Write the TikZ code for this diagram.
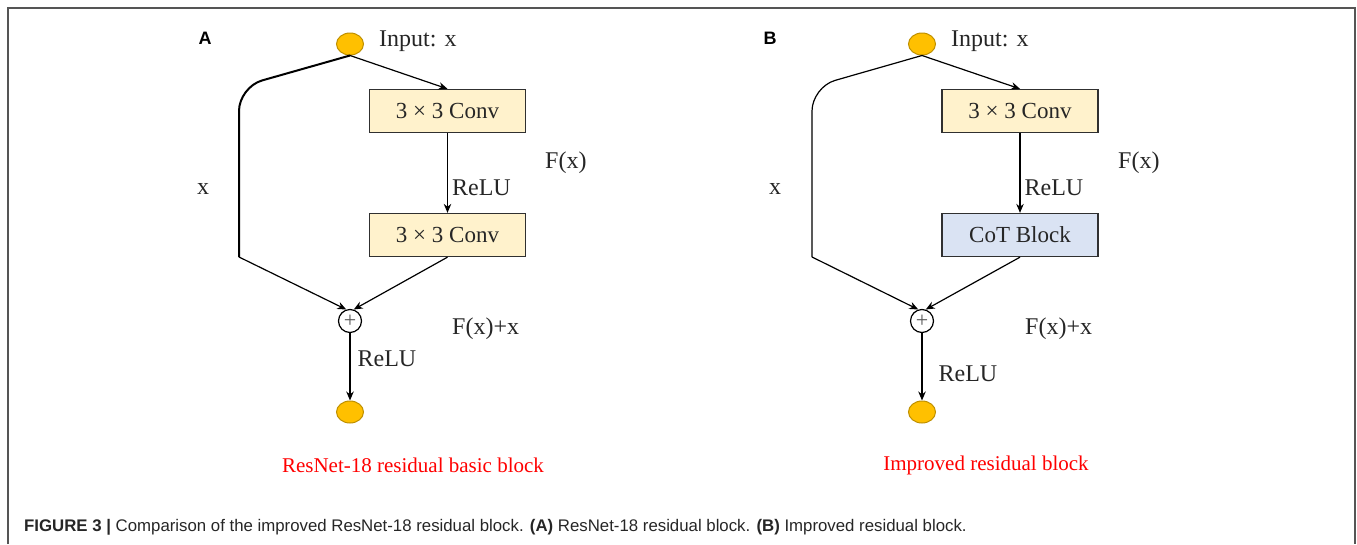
\documentclass[tikz,border=0pt]{standalone}
\usepackage{fontspec}
\setmainfont{Liberation Serif}
\newfontfamily\capfont{Liberation Sans}
\usetikzlibrary{arrows.meta,shapes.geometric}
\definecolor{dotfill}{HTML}{FFC000}
\definecolor{dotedge}{HTML}{BF9000}
\definecolor{convfill}{HTML}{FFF2CC}
\definecolor{cotfill}{HTML}{DAE3F3}
\definecolor{boxedge}{HTML}{303030}
\definecolor{txt}{HTML}{262626}
\definecolor{plusc}{HTML}{595959}
\definecolor{framec}{HTML}{555555}
\newcommand{\convtxt}{3 × 3 Conv}
\begin{document}
\begin{tikzpicture}[x=1pt,y=-1pt,
  dot/.style={ellipse, draw=dotedge, fill=dotfill, line width=1pt,
    minimum width=27pt, minimum height=22pt, inner sep=0pt},
  layer/.style={draw=boxedge, line width=1.3pt, minimum width=156pt,
    minimum height=43pt, inner sep=0pt, text=txt,
    font=\fontsize{23}{26}\selectfont},
  sum/.style={circle, draw=black, line width=1.2pt, minimum size=23pt,
    inner sep=0pt, text=plusc, font=\fontsize{22}{22}\selectfont},
  flow/.style={-{Stealth[length=9pt,width=7.5pt]}, line width=1.2pt},
  skip/.style={line width=1.2pt},
  lbl/.style={font=\fontsize{24}{26}\selectfont, text=txt, inner sep=0pt, anchor=west},
  mid/.style={font=\fontsize{24}{26}\selectfont, text=txt, inner sep=0pt},
  panel/.style={font=\capfont\bfseries\fontsize{18}{20}\selectfont, inner sep=0pt},
  title/.style={font=\fontsize{21}{24}\selectfont, text=red, inner sep=0pt},
]
\useasboundingbox (0,0) rectangle (1357,544);

% outer frame (open at the bottom)
\draw[framec, line width=2pt] (8,544) |- (1355,8) -- (1355,544);

% ---------------- panel A: ResNet-18 basic block ----------------
\node[panel] (pA) at (205,38) {A};
\node[dot] (inA) at (350,44) {};
\node[lbl] (inAl) at (379,41) {Input: x};
\node[layer, fill=convfill] (c1A) at (447.5,111) {\convtxt};
\node[layer, fill=convfill] (c2A) at (447.5,235) {\convtxt};
\node[sum] (sA) at (350,321) {+};
\node[dot] (outA) at (350,412) {};
\coordinate (kA) at (239,87);
\coordinate (bA) at (239,257);

\draw[flow] (inA.south) -- (c1A.north);
\draw[flow] (c1A.south) -- node[lbl, pos=0.69, xshift=4pt] (r1A) {ReLU} (c2A.north);
\draw[skip, line width=2pt, rounded corners=24pt] (inA.south) -- (kA)
  [sharp corners] -- (bA);
\draw[flow] (bA) -- (sA.108);
\draw[flow] (c2A.south) -- (sA.72);
\draw[flow] (sA.south) -- node[lbl, pos=0.38, xshift=7pt] (r2A) {ReLU} (outA.north);

\node[lbl] (fA) at (545,163) {F(x)};
\node[mid] (xA) at (203,189) {x};
\node[lbl] (fxA) at (452,329) {F(x)+x};
\node[title] (tA) at (413,465) {ResNet-18 residual basic block};

% ---------------- panel B: improved residual block ----------------
\node[panel] (pB) at (770,38) {B};
\node[dot] (inB) at (922,44) {};
\node[lbl] (inBl) at (951,41) {Input: x};
\node[layer, fill=convfill] (c1B) at (1020,111) {\convtxt};
\node[layer, fill=cotfill] (c2B) at (1020,235) {CoT Block};
\node[sum] (sB) at (922,321) {+};
\node[dot] (outB) at (922,412) {};
\coordinate (kB) at (812,87);
\coordinate (bB) at (812,257);

\draw[flow] (inB.south) -- (c1B.north);
\draw[flow] (c1B.south) -- node[lbl, pos=0.69, xshift=4pt] (r1B) {ReLU} (c2B.north);
\draw[skip, rounded corners=24pt] (inB.south) -- (kB)
  [sharp corners] -- (bB);
\draw[flow] (bB) -- (sB.108);
\draw[flow] (c2B.south) -- (sB.72);
\draw[flow] (sB.south) -- node[lbl, pos=0.6, xshift=16pt] (r2B) {ReLU} (outB.north);

\node[lbl] (fB) at (1118,163) {F(x)};
\node[mid] (xB) at (775,189) {x};
\node[lbl] (fxB) at (1025,329) {F(x)+x};
\node[title] (tB) at (986,465) {Improved residual block};

% ---------------- caption ----------------
\node[anchor=base west, inner sep=0pt, font=\capfont\fontsize{16.8}{18}\selectfont, text=txt]
  (cap) at (24,531) {\textbf{FIGURE 3 |} Comparison of the improved ResNet-18 residual block. \textbf{(A)} ResNet-18 residual block. \textbf{(B)} Improved residual block.};
\end{tikzpicture}
\end{document}
